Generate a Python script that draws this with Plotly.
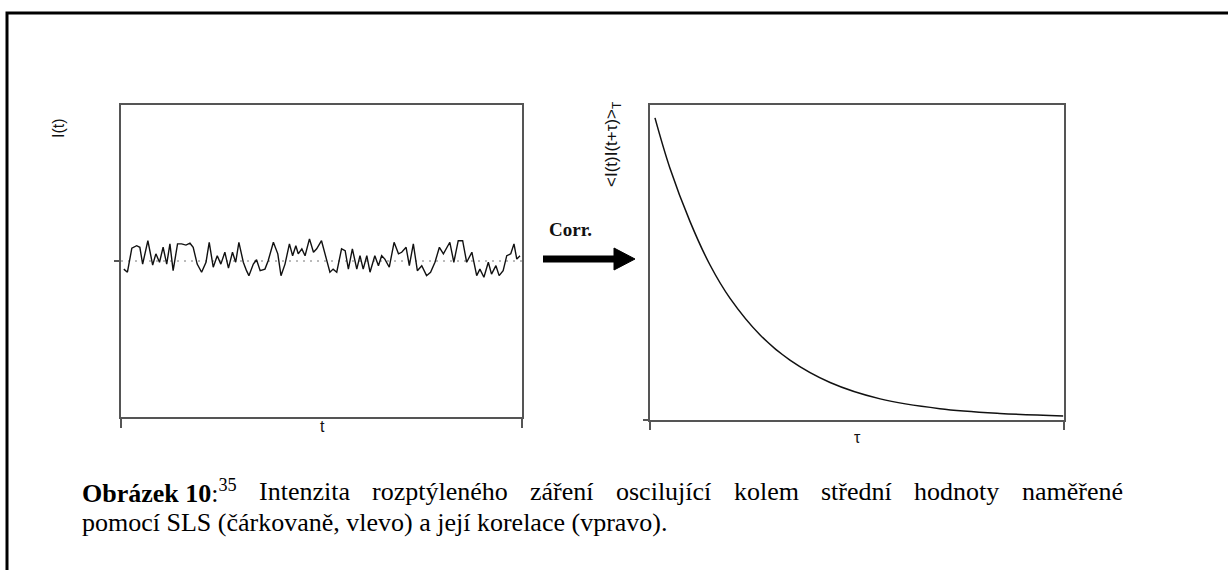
import plotly.graph_objects as go

# ---------------- data ----------------
# left panel: scattered intensity vs time
t_left = [0.7, 1.6, 2.7, 3.9, 4.7, 5.4, 6.7, 7.9, 8.7, 9.6, 10.5, 11.4, 12.2, 13.0, 14.1, 15.1,
          16.2, 17.2, 18.0, 19.0, 20.1, 21.2, 22.0, 23.0, 24.0, 24.9, 25.9, 26.8, 27.8, 28.6,
          29.4, 30.5, 31.3, 31.9, 33.0, 33.8, 34.7, 35.9, 36.7, 38.0, 39.1, 39.9, 40.9, 42.0,
          42.8, 43.6, 44.2, 45.1, 45.9, 47.0, 48.0, 48.8, 50.0, 51.3, 52.1, 52.9, 53.8, 55.0,
          55.9, 56.7, 57.7, 58.8, 59.6, 60.4, 61.3, 62.1, 63.3, 64.2, 65.0, 65.8, 66.9, 68.1,
          69.2, 70.0, 71.1, 71.9, 72.9, 73.9, 75.0, 76.2, 77.2, 78.3, 79.4, 80.4, 82.0, 83.0,
          84.1, 85.2, 86.2, 87.5, 88.7, 89.5, 90.5, 91.6, 92.4, 93.5, 94.3, 95.3, 96.2, 97.2,
          98.0, 98.7, 99.5]
intensity = [0.474, 0.464, 0.541, 0.549, 0.544, 0.490, 0.565, 0.487, 0.523, 0.496, 0.544, 0.490,
             0.555, 0.469, 0.555, 0.555, 0.551, 0.557, 0.544, 0.490, 0.464, 0.496, 0.560, 0.480,
             0.517, 0.490, 0.528, 0.477, 0.528, 0.496, 0.560, 0.496, 0.469, 0.453, 0.490, 0.504,
             0.469, 0.474, 0.501, 0.560, 0.523, 0.453, 0.490, 0.555, 0.517, 0.549, 0.523, 0.539,
             0.517, 0.571, 0.528, 0.539, 0.565, 0.506, 0.464, 0.474, 0.464, 0.539, 0.533, 0.474,
             0.539, 0.474, 0.517, 0.474, 0.517, 0.464, 0.517, 0.485, 0.517, 0.506, 0.480, 0.560,
             0.523, 0.528, 0.544, 0.485, 0.555, 0.469, 0.485, 0.453, 0.464, 0.496, 0.544, 0.523,
             0.560, 0.496, 0.565, 0.565, 0.496, 0.528, 0.453, 0.474, 0.448, 0.496, 0.458, 0.485,
             0.453, 0.469, 0.517, 0.523, 0.555, 0.506, 0.517]
mean_t = [0, 100]
mean_i = [0.5, 0.5]

# right panel: correlation function vs tau
tau = [0.012, 0.048, 0.097, 0.145, 0.193, 0.266, 0.338, 0.435, 0.556, 0.700, 0.845, 0.998]
corr = [0.959, 0.800, 0.629, 0.492, 0.387, 0.270, 0.190, 0.119, 0.067, 0.036, 0.021, 0.013]

# texts
x_label_left = "t"
y_label_left = "I(t)"
x_label_right = "τ"
y_label_right = "&lt;I(t)I(t+τ)&gt;<sub>T</sub>"
arrow_label = "Corr."
caption_line1 = ["<b>Obrázek 10</b>:<sup>35</sup>", "Intenzita", "rozptýleného", "záření",
                 "oscilující", "kolem", "střední", "hodnoty", "naměřené"]
caption_line2 = "pomocí SLS (čárkovaně, vlevo) a její korelace (vpravo)."

# ---------------- layout helpers ----------------
W, H = 1228, 570


def px(x):
    return x / W


def py(y):
    return 1 - y / H


AXIS_COLOR = "#555555"
SERIF = "Liberation Serif"
SANS = "Liberation Sans"

fig = go.Figure()

fig.add_trace(go.Scatter(x=mean_t, y=mean_i, mode="lines", xaxis="x", yaxis="y",
                         line=dict(color="#777777", width=1, dash="2px,5px"),
                         hoverinfo="skip", showlegend=False))
fig.add_trace(go.Scatter(x=t_left, y=intensity, mode="lines", xaxis="x", yaxis="y",
                         line=dict(color="#111111", width=1.4), showlegend=False))
fig.add_trace(go.Scatter(x=tau, y=corr, mode="lines", xaxis="x2", yaxis="y2",
                         line=dict(color="#111111", width=1.5, shape="spline", smoothing=1.0),
                         showlegend=False))

common = dict(showgrid=False, zeroline=False, showline=True, mirror=True,
              linecolor=AXIS_COLOR, linewidth=2, ticks="outside", tickcolor=AXIS_COLOR,
              tickwidth=2, showticklabels=False, fixedrange=True)

fig.update_layout(
    width=W, height=H,
    margin=dict(l=0, r=0, t=0, b=0),
    paper_bgcolor="white", plot_bgcolor="white",
    showlegend=False,
    xaxis=dict(domain=[px(121), px(522)], range=[0, 100], tickvals=[0, 100], ticklen=9,
               anchor="y", **common),
    yaxis=dict(domain=[py(417), py(105)], range=[0, 1], tickvals=[0.5], ticklen=5,
               anchor="x", **common),
    xaxis2=dict(domain=[px(650), px(1064)], range=[0, 1], tickvals=[0, 1], ticklen=8,
                anchor="y2", **common),
    yaxis2=dict(domain=[py(420), py(105)], range=[0, 1], tickvals=[0], ticklen=5,
                anchor="x2", **common),
)


def label(text, x, y, size, family=SANS, angle=0):
    return dict(text=text, x=px(x), y=py(y), xref="paper", yref="paper",
                xanchor="center", yanchor="middle", textangle=angle, showarrow=False,
                font=dict(family=family, size=size, color="#111"))


annotations = [
    label(x_label_left, 322, 426, 16),
    label(y_label_left, 58, 128, 16, angle=-90),
    label(x_label_right, 857, 437, 16),
    label(y_label_right, 613, 145, 17, angle=-90),
    label("<b>" + arrow_label + "</b>", 570, 229, 19, family=SERIF),
]

# justified first caption line (Times metrics)
CAP_SIZE = 26
reg_w = {" ": 250, "I": 333, "n": 500, "t": 278, "e": 444, "z": 444, "i": 278, "a": 444,
         "r": 333, "o": 500, "p": 500, "ý": 500, "l": 278, "h": 500, "á": 444, "ř": 333,
         "í": 278, "s": 389, "c": 444, "u": 500, "j": 278, "k": 500, "m": 778, "d": 500,
         "y": 500, "ě": 444, "é": 444, ":": 278}


def word_width(w):
    if w.startswith("<b>"):
        return (778 + 556 + 444 + 500 + 444 + 444 + 556 + 250 + 1000 + 278 + 700) * CAP_SIZE / 1000
    return sum(reg_w.get(ch, 500) for ch in w) * CAP_SIZE / 1000


left_x, right_x = 80, 1121
widths = [word_width(w) for w in caption_line1]
gap = (right_x - left_x - sum(widths)) / (len(caption_line1) - 1)
xpos = left_x
for w, wd in zip(caption_line1, widths):
    annotations.append(dict(text=w, x=px(xpos), y=py(491), xref="paper", yref="paper",
                            xanchor="left", yanchor="middle", showarrow=False,
                            font=dict(family=SERIF, size=CAP_SIZE, color="#000")))
    xpos += wd + gap

annotations.append(dict(text=caption_line2, x=px(left_x), y=py(522), xref="paper", yref="paper",
                        xanchor="left", yanchor="middle", showarrow=False,
                        font=dict(family=SERIF, size=CAP_SIZE, color="#000")))

fig.update_layout(annotations=annotations)

shapes = [
    # outer frame (top and left)
    dict(type="path", xref="paper", yref="paper",
         path=f"M {px(7)},{py(600)} L {px(7)},{py(13)} L {px(1260)},{py(13)}",
         line=dict(color="black", width=3)),
    # arrow shaft
    dict(type="line", xref="paper", yref="paper", x0=px(543), y0=py(259), x1=px(618), y1=py(259),
         line=dict(color="black", width=7)),
    # arrow head
    dict(type="path", xref="paper", yref="paper",
         path=f"M {px(614)},{py(248)} L {px(635)},{py(259)} L {px(614)},{py(270)} Z",
         fillcolor="black", line=dict(color="black", width=1)),
]
fig.update_layout(shapes=shapes)

fig.write_html("out.html")
